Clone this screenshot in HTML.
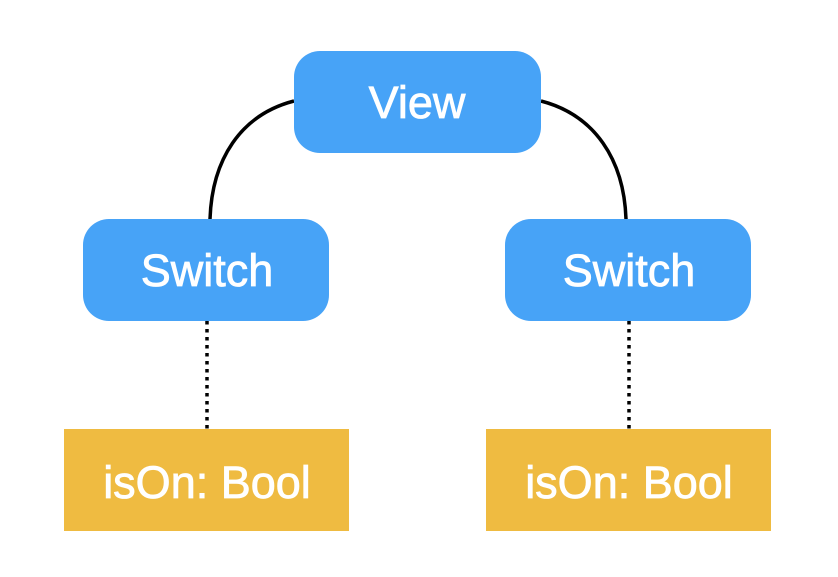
<!DOCTYPE html>
<html><head><style>body{margin:0;background:#fff}</style></head><body>
<svg width="838" height="572" xmlns="http://www.w3.org/2000/svg" font-family="Liberation Sans, sans-serif">
<rect width="838" height="572" fill="#fff"/>
<path d="M294,101 C240,115 212,160 210,219" fill="none" stroke="#000" stroke-width="3.5"/>
<path d="M541,101 C595,115 624,160 626,219" fill="none" stroke="#000" stroke-width="3.5"/>
<line x1="207" y1="321" x2="207" y2="429" stroke="#000" stroke-width="3.5" stroke-dasharray="3.5 4.5"/>
<line x1="629" y1="321" x2="629" y2="429" stroke="#000" stroke-width="3.5" stroke-dasharray="3.5 4.5"/>
<rect x="294" y="51" width="247" height="102" rx="26" fill="#47a3f7"/>
<rect x="83" y="219" width="246" height="102" rx="26" fill="#47a3f7"/>
<rect x="505" y="219" width="246" height="102" rx="26" fill="#47a3f7"/>
<rect x="64" y="429" width="285" height="102" fill="#efbb41"/>
<rect x="486" y="429" width="285" height="102" fill="#efbb41"/>
<g fill="#fff" stroke="#fff" stroke-width="0.8" font-size="45" text-anchor="middle">
<text x="417" y="118">View</text>
<text x="207" y="286">Switch</text>
<text x="629" y="286">Switch</text>
<text x="207" y="498">isOn: Bool</text>
<text x="629" y="498">isOn: Bool</text>
</g>
</svg>
</body></html>
